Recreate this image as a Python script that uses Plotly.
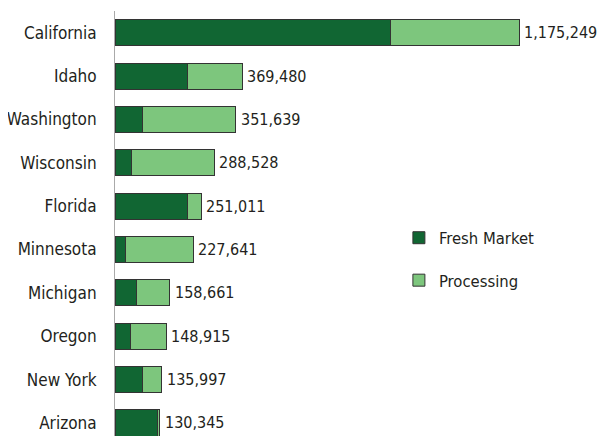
import plotly.graph_objects as go

states = ["California", "Idaho", "Washington", "Wisconsin", "Florida",
          "Minnesota", "Michigan", "Oregon", "New York", "Arizona"]
totals = [1175249, 369480, 351639, 288528, 251011, 227641, 158661, 148915, 135997, 130345]
fresh = [801000, 210000, 78500, 48500, 211000, 31000, 63000, 45600, 78500, 124000]
processing = [t - f for t, f in zip(totals, fresh)]
total_labels = [f"{t:,}" for t in totals]

DARK = "#116633"
LIGHT = "#7DC67D"
FONT = "DejaVu Sans Condensed, Liberation Sans Narrow, Arial Narrow, sans-serif"
TXT = "#231f20"

fig = go.Figure()
fig.add_trace(go.Bar(y=states, x=fresh, orientation="h", name="Fresh Market",
                     marker=dict(color=DARK, line=dict(color="#333333", width=1)),
                     legendgroup="a", width=0.6))
fig.add_trace(go.Bar(y=states, x=processing, orientation="h", name="Processing",
                     marker=dict(color=LIGHT, line=dict(color="#333333", width=1)),
                     legendgroup="b", width=0.6))

for s, t, lab in zip(states, totals, total_labels):
    fig.add_annotation(x=t, y=s, text=lab, showarrow=False, xanchor="left",
                       xshift=3, font=dict(family=FONT, size=16, color=TXT))

fig.update_layout(
    width=589, height=430,
    barmode="stack",
    bargap=0.4,
    margin=dict(l=107, r=0, t=3, b=2, autoexpand=False),
    plot_bgcolor="white", paper_bgcolor="white",
    font=dict(family=FONT, size=17, color=TXT),
    showlegend=True,
    legend=dict(x=0.589, y=0.4165, xanchor="left", yanchor="middle",
                traceorder="grouped", tracegroupgap=18,
                font=dict(family=FONT, size=16.5, color=TXT),
                bgcolor="rgba(0,0,0,0)"),
    xaxis=dict(range=[0, 1401000], visible=False, showgrid=False, zeroline=False),
    yaxis=dict(range=[9.3, -0.5], showline=True, linecolor="#aaaaaa", linewidth=1,
               ticks="", showgrid=False, ticklabelstandoff=14, automargin=False,
               tickfont=dict(family=FONT, size=17, color=TXT)),
)

fig.write_html("out.html")
